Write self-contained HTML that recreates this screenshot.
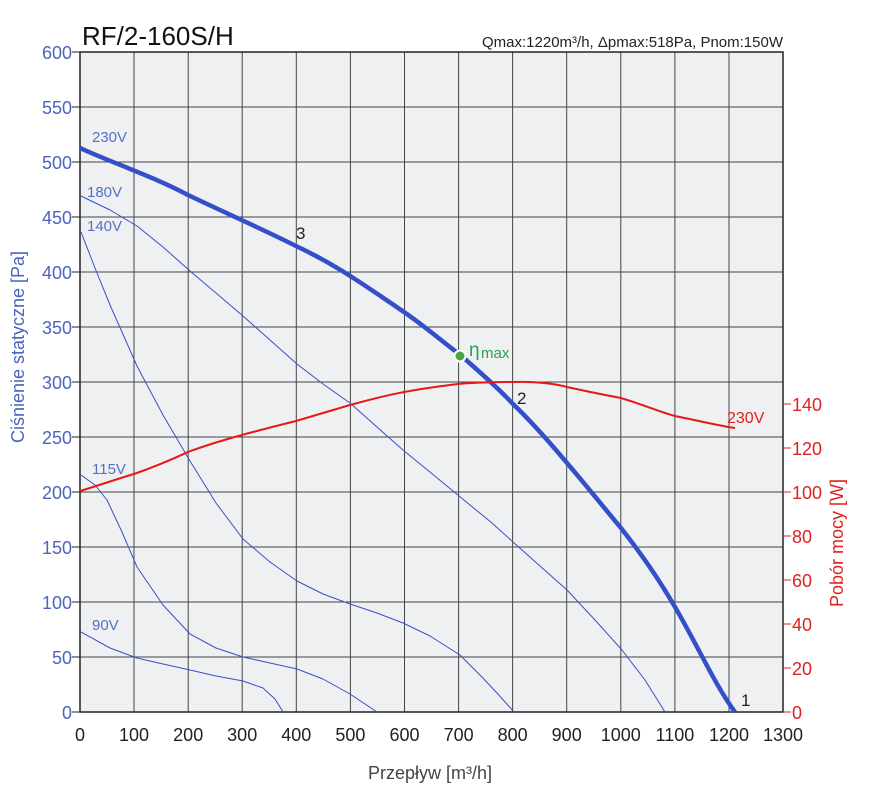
<!DOCTYPE html>
<html><head><meta charset="utf-8"><style>
body{margin:0;background:#fff;width:873px;height:794px;overflow:hidden}
svg{display:block}
text{font-family:"Liberation Sans","DejaVu Sans",sans-serif}
</style></head><body>
<svg width="873" height="794" viewBox="0 0 873 794" xmlns="http://www.w3.org/2000/svg">
<rect x="80" y="52" width="703" height="660" fill="#eef0f2"/>
<g stroke="#444" stroke-width="1">
<line x1="134" y1="52" x2="134" y2="712"/><line x1="188.2" y1="52" x2="188.2" y2="712"/><line x1="242.2" y1="52" x2="242.2" y2="712"/><line x1="296.3" y1="52" x2="296.3" y2="712"/><line x1="350.4" y1="52" x2="350.4" y2="712"/><line x1="404.5" y1="52" x2="404.5" y2="712"/><line x1="458.6" y1="52" x2="458.6" y2="712"/><line x1="512.6" y1="52" x2="512.6" y2="712"/><line x1="566.7" y1="52" x2="566.7" y2="712"/><line x1="620.8" y1="52" x2="620.8" y2="712"/><line x1="674.9" y1="52" x2="674.9" y2="712"/><line x1="729" y1="52" x2="729" y2="712"/>
<line x1="80" y1="107" x2="783" y2="107"/><line x1="80" y1="162" x2="783" y2="162"/><line x1="80" y1="217" x2="783" y2="217"/><line x1="80" y1="272" x2="783" y2="272"/><line x1="80" y1="327" x2="783" y2="327"/><line x1="80" y1="382" x2="783" y2="382"/><line x1="80" y1="437" x2="783" y2="437"/><line x1="80" y1="492" x2="783" y2="492"/><line x1="80" y1="547" x2="783" y2="547"/><line x1="80" y1="602" x2="783" y2="602"/><line x1="80" y1="657" x2="783" y2="657"/>
</g>
<rect x="80" y="52" width="703" height="660" fill="none" stroke="#222" stroke-width="1.5"/>
<g stroke="#222" stroke-width="1">
<line x1="72" y1="52" x2="80" y2="52"/><line x1="72" y1="107" x2="80" y2="107"/><line x1="72" y1="162" x2="80" y2="162"/><line x1="72" y1="217" x2="80" y2="217"/><line x1="72" y1="272" x2="80" y2="272"/><line x1="72" y1="327" x2="80" y2="327"/><line x1="72" y1="382" x2="80" y2="382"/><line x1="72" y1="437" x2="80" y2="437"/><line x1="72" y1="492" x2="80" y2="492"/><line x1="72" y1="547" x2="80" y2="547"/><line x1="72" y1="602" x2="80" y2="602"/><line x1="72" y1="657" x2="80" y2="657"/><line x1="72" y1="712" x2="80" y2="712"/>
</g>
<g stroke="#e02020" stroke-width="1">
<line x1="783" y1="712" x2="791" y2="712"/><line x1="783" y1="668" x2="791" y2="668"/><line x1="783" y1="624" x2="791" y2="624"/><line x1="783" y1="580" x2="791" y2="580"/><line x1="783" y1="536" x2="791" y2="536"/><line x1="783" y1="492" x2="791" y2="492"/><line x1="783" y1="448" x2="791" y2="448"/><line x1="783" y1="404" x2="791" y2="404"/>
</g>
<g font-size="18" fill="#4a64c0" text-anchor="end">
<text x="72" y="59">600</text><text x="72" y="114">550</text><text x="72" y="169">500</text><text x="72" y="224">450</text><text x="72" y="279">400</text><text x="72" y="334">350</text><text x="72" y="389">300</text><text x="72" y="444">250</text><text x="72" y="499">200</text><text x="72" y="554">150</text><text x="72" y="609">100</text><text x="72" y="664">50</text><text x="72" y="719">0</text>
</g>
<g font-size="18" fill="#e02020">
<text x="792" y="719">0</text><text x="792" y="675">20</text><text x="792" y="631">40</text><text x="792" y="587">60</text><text x="792" y="543">80</text><text x="792" y="499">100</text><text x="792" y="455">120</text><text x="792" y="411">140</text>
</g>
<g font-size="18" fill="#222" text-anchor="middle">
<text x="80" y="741">0</text><text x="134" y="741">100</text><text x="188.2" y="741">200</text><text x="242.2" y="741">300</text><text x="296.3" y="741">400</text><text x="350.4" y="741">500</text><text x="404.5" y="741">600</text><text x="458.6" y="741">700</text><text x="512.6" y="741">800</text><text x="566.7" y="741">900</text><text x="620.8" y="741">1000</text><text x="674.9" y="741">1100</text><text x="729" y="741">1200</text><text x="783" y="741">1300</text>
</g>
<text x="430" y="779" font-size="18" fill="#444" text-anchor="middle">Przepływ [m³/h]</text>
<text transform="translate(24,347) rotate(-90)" font-size="18" fill="#4a64c0" text-anchor="middle">Ciśnienie statyczne [Pa]</text>
<text transform="translate(843,543) rotate(-90)" font-size="18" fill="#e02020" text-anchor="middle">Pobór mocy [W]</text>
<text x="82" y="45" font-size="26" fill="#111">RF/2-160S/H</text>
<text x="783" y="47" font-size="15" fill="#222" text-anchor="end">Qmax:1220m³/h, Δpmax:518Pa, Pnom:150W</text>
<g fill="none" stroke="#3a4fc8" stroke-width="1" stroke-linejoin="round">
<polyline points="81,196 110,210 137,226 163,247 190,271 216,293 243,316 270,340 297,364 323,384 350,403 377,427 403,450 436,477 470,505 492,523 513,542 540,566 567,590 595,620 622,650 645,680 665,712"/>
<polyline points="81,232 95,268 110,305 137,366 163,415 190,461 216,503 243,539 270,562 297,581 323,594 350,604 377,613 403,623 430,636 460,655 480,675 497,693 514,712"/>
<polyline points="81,475 95,485 107,500 122,532 137,567 163,605 190,634 216,648 243,657 270,663 297,669 323,679 350,694 365,704 377,712"/>
<polyline points="81,632 110,648 137,658 163,664 190,670 216,676 243,681 263,688 275,699 283,712"/>
</g>
<path d="M80,148 C110,162 150,175 188,195 C230,215 260,228 296,246 C330,262 350,275 404,312 C430,330 450,348 458,353 C480,372 500,390 513,404 C540,430 560,455 567,463 C590,490 610,515 621,528 C650,565 665,590 675,607 C700,650 715,685 735,712" fill="none" stroke="#3350c8" stroke-width="4.5"/>
<path d="M80,491 C100,485 120,478 134,474 C160,465 175,458 188,452 C220,440 260,430 296,421 C320,414 340,408 350,405 C380,397 400,391 458,384 C480,382 500,382 513,382 C540,381 560,385 567,387 C590,392 610,396 621,398 C650,407 660,412 675,416 C700,421 720,426 735,428" fill="none" stroke="#e81818" stroke-width="2"/>
<circle cx="460" cy="356" r="5.5" fill="#4aa63e" stroke="#fff" stroke-width="2"/>
<text x="469" y="356" font-size="19" fill="#2aa050">η</text><text x="481" y="358" font-size="15" fill="#2aa050">max</text>
<g font-size="15" fill="#5570c8">
<text x="92" y="142">230V</text><text x="87" y="197">180V</text><text x="87" y="231">140V</text><text x="92" y="474">115V</text><text x="92" y="630">90V</text>
</g>
<text x="727" y="423" font-size="16" fill="#e02020">230V</text>
<g font-size="17" fill="#222"><text x="296" y="239">3</text><text x="517" y="404">2</text><text x="741" y="706">1</text></g>
</svg>
</body></html>
